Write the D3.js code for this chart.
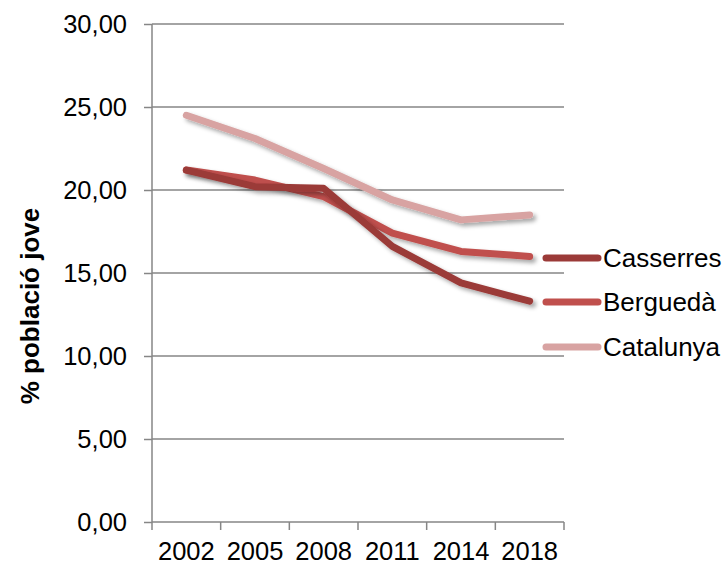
<!DOCTYPE html>
<html><head><meta charset="utf-8">
<script src="https://cdn.jsdelivr.net/npm/d3@7"></script>
<style>body{margin:0;background:#fff;}svg{display:block;font-family:"Liberation Sans",Arial,sans-serif;}</style>
</head><body>
<svg id="c" width="727" height="566"></svg>
<script>
const years = ["2002","2005","2008","2011","2014","2018"];
const casserres = [21.2, 20.2, 20.1, 16.6, 14.4, 13.3];
const bergueda = [21.2, 20.6, 19.6, 17.4, 16.3, 16.0];
const catalunya = [24.5, 23.1, 21.3, 19.4, 18.2, 18.5];
const seriesNames = ["Casserres","Berguedà","Catalunya"];
const seriesColors = ["#9b3a38","#c0504d","#d8a3a2"];
const yTicks = [0,5,10,15,20,25,30];
const yTitle = "% població jove";

(function(){
const series = [casserres, bergueda, catalunya];
const svg = d3.select("#c");
const L = 152, R = 564, T = 24, B = 522;
const x = d3.scaleBand().domain(years).range([L, R]);
const y = d3.scaleLinear().domain([0,30]).range([B, T]);
const grey = "#868686";
const fs = 25.5;

const defs = svg.append("defs");
const f = defs.append("filter").attr("id","sh").attr("x","-10%").attr("y","-10%").attr("width","130%").attr("height","140%");
f.append("feDropShadow").attr("dx",3).attr("dy",3).attr("stdDeviation",2).attr("flood-color","#000").attr("flood-opacity",0.35);

// gridlines
svg.append("g").selectAll("line").data(yTicks.filter(d=>d>0)).join("line")
  .attr("x1",L).attr("x2",R).attr("y1",d=>y(d)).attr("y2",d=>y(d))
  .attr("stroke",grey).attr("stroke-width",1.5);

// y axis
const yAxis = svg.append("g").attr("transform",`translate(${L},0)`)
  .call(d3.axisLeft(y).tickValues(yTicks).tickSize(8).tickPadding(17).tickFormat(d=>d3.format(".2f")(d).replace(".",",")));
yAxis.select(".domain").attr("stroke",grey).attr("stroke-width",1.5).attr("d",`M0,${T}V${B}`);
yAxis.selectAll(".tick line").attr("stroke",grey).attr("stroke-width",1.5);
yAxis.selectAll("text").attr("font-size",fs).attr("fill","#000").attr("font-family","Liberation Sans, Arial, sans-serif");

// x axis
const xAxis = svg.append("g").attr("transform",`translate(0,${B})`)
  .call(d3.axisBottom(x).tickSize(0).tickPadding(20));
xAxis.select(".domain").attr("stroke",grey).attr("stroke-width",1.5).attr("d",`M${L},0H${R}`);
xAxis.selectAll("text").attr("font-size",fs).attr("fill","#000").attr("font-family","Liberation Sans, Arial, sans-serif");
const xb = years.map(d=>x(d)).concat([R]);
xAxis.append("g").selectAll("line").data(xb).join("line")
  .attr("x1",d=>d).attr("x2",d=>d).attr("y1",0).attr("y2",8)
  .attr("stroke",grey).attr("stroke-width",1.5);

// title
svg.append("text").attr("transform",`translate(39,306) rotate(-90)`)
  .attr("text-anchor","middle").attr("font-size",26).attr("font-weight","bold").text(yTitle);

// lines
const line = d3.line().x((d,i)=>x(years[i])+x.bandwidth()/2).y(d=>y(d));
[2,1,0].forEach(k=>{
  svg.append("path").datum(series[k]).attr("d",line).attr("fill","none")
    .attr("stroke",seriesColors[k]).attr("stroke-width",7).attr("stroke-linecap","round").attr("stroke-linejoin","round")
    .attr("filter","url(#sh)");
});

// legend
const legY = [258, 302, 347];
seriesNames.forEach((n,i)=>{
  svg.append("line").attr("x1",546).attr("x2",598).attr("y1",legY[i]).attr("y2",legY[i])
    .attr("stroke",seriesColors[i]).attr("stroke-width",7).attr("stroke-linecap","round");
  svg.append("text").attr("x",603).attr("y",legY[i]+9).attr("font-size",26).attr("fill","#000").text(n);
});
})();
</script>
</body></html>
